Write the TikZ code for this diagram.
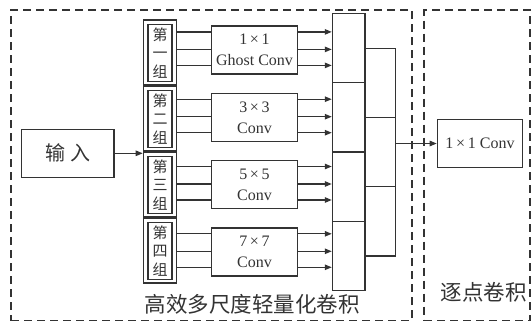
\documentclass[tikz,border=0pt]{standalone}
\usepackage{fontspec}
\setmainfont{Liberation Serif}
\newfontfamily\cjk{Noto Sans CJK SC}
\usetikzlibrary{arrows.meta,calc}
\definecolor{lc}{HTML}{333333}
\tikzset{
  ln/.style={draw=lc, line width=1.2pt},
  arr/.style={ln, -{Triangle[length=7pt,width=5.5pt]}},
  sbox/.style={ln, rectangle, inner sep=0pt, text=lc},
  frame/.style={draw=lc, line width=1.8pt, dash pattern=on 8pt off 5pt, rectangle, inner sep=0pt},
  convtxt/.style={font=\fontsize{16}{21}\selectfont, align=center},
  grptxt/.style={font=\cjk\fontsize{15}{18.5}\selectfont, align=center},
  lbl/.style={text=lc, inner sep=0pt, font=\cjk\fontsize{21.5}{23}\selectfont}
}
\begin{document}
\begin{tikzpicture}[x=1pt,y=-1pt]
\useasboundingbox (0,0) rectangle (531,322);
% frames
\node[frame, minimum width=400.7pt, minimum height=310.5pt] (f1) at (211.35,165.25) {};
\node[frame, minimum width=106pt, minimum height=310.5pt] (f2) at (477,165.25) {};
\node[lbl] (l1) at (252.3,304) {高效多尺度轻量化卷积};
\node[lbl] (l2) at (483.5,292) {逐点卷积};
% input
\node[sbox, minimum width=92.3pt, minimum height=48pt, font=\cjk\fontsize{20}{22}\selectfont] (in) at (67.8,153.3) {输\hspace{5pt}入};
% groups
\foreach \i/\t in {0/一,1/二,2/三,3/四}{
  \node[sbox, minimum width=33.4pt, minimum height=65pt] (g\i) at (160,{52.5+66*\i}) {};
  \node[sbox, minimum width=24pt, minimum height=57pt, grptxt] (gi\i) at (160,{52.8+66*\i}) {第\\\t\\组};
}
% conv boxes
\node[sbox, minimum width=85.6pt, minimum height=48pt, convtxt] (k0) at (254.5,50) {1\,×\,1\\Ghost Conv};
\node[sbox, minimum width=85.6pt, minimum height=48pt, convtxt] (k1) at (254.5,117.3) {3\,×\,3\\Conv};
\node[sbox, minimum width=85.6pt, minimum height=48pt, convtxt] (k2) at (254.5,184.6) {5\,×\,5\\Conv};
\node[sbox, minimum width=85.6pt, minimum height=48pt, convtxt] (k3) at (254.5,251.9) {7\,×\,7\\Conv};
% concat columns
\foreach \j in {0,1,2,3}{
  \node[sbox, minimum width=32.7pt, minimum height=69.35pt] (c\j) at (348.7,{48+69.35*\j}) {};
}
\foreach \j in {0,1,2}{
  \node[sbox, minimum width=30.7pt, minimum height=69.2pt] (d\j) at (380.35,{82.9+69.2*\j}) {};
}
% pointwise conv
\node[sbox, minimum width=85.4pt, minimum height=48.4pt, font=\fontsize{16}{21}\selectfont] (cv) at (480,143.5) {1\,×\,1 Conv};
% connectors
\draw[arr] (in.east) -- (in.east -| g1.west);
\foreach \i in {0,1,2,3}{
  \foreach \o in {6.5,24,40}{
    \coordinate (p\i) at ($(k\i.north west)+(0,\o)$);
    \draw[ln] (g\i.east |- p\i) -- (p\i);
    \draw[arr] (k\i.east |- p\i) -- (c0.west |- p\i);
  }
}
\draw[arr] (cv.west -| d1.east) -- (cv.west);
\end{tikzpicture}
\end{document}
